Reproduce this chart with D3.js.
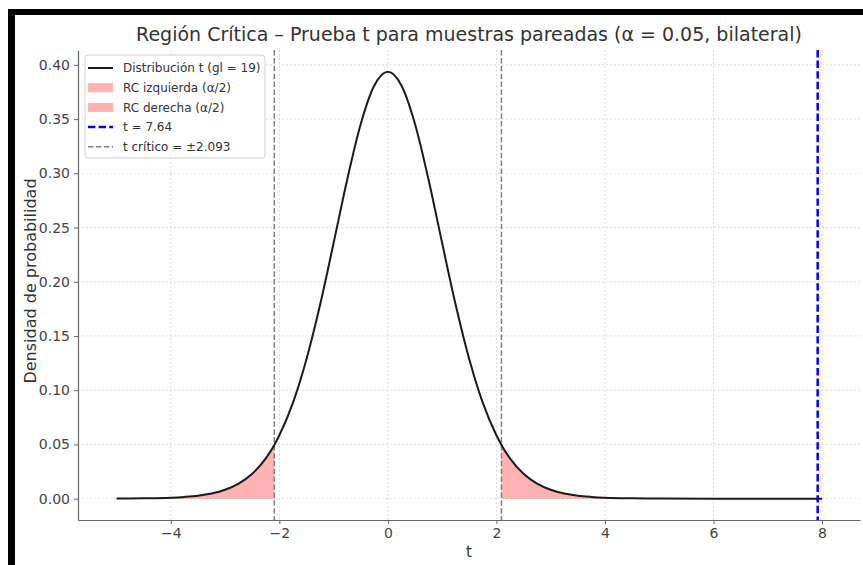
<!DOCTYPE html>
<html>
<head>
<meta charset="utf-8">
<script src="https://cdn.jsdelivr.net/npm/d3@7"></script>
<style>
  body { margin: 0; background: #fff; }
  svg { display: block; font-family: "DejaVu Sans", sans-serif; }
</style>
</head>
<body>
<div id="app"></div>
<script>
// t values and density (gl = 19)
const tPoints = [-5, -4.5, -4, -3.75, -3.5, -3.25, -3, -2.75, -2.5, -2.25, -2.093, -2, -1.75, -1.5, -1.25, -1, -0.75, -0.5, -0.25,
  0, 0.25, 0.5, 0.75, 1, 1.25, 1.5, 1.75, 2, 2.093, 2.25, 2.5, 2.75, 3, 3.25, 3.5, 3.75, 4, 4.5, 5, 6, 7, 8];
const density = [0.0001, 0.0003, 0.0009, 0.0016, 0.0027, 0.0047, 0.0082, 0.0138, 0.0229, 0.0371, 0.0495, 0.0584, 0.0883, 0.1286, 0.1786, 0.2357, 0.2941, 0.3455, 0.3810,
  0.3937, 0.3810, 0.3455, 0.2941, 0.2357, 0.1786, 0.1286, 0.0883, 0.0584, 0.0495, 0.0371, 0.0229, 0.0138, 0.0082, 0.0047, 0.0027, 0.0016, 0.0009, 0.0003, 0.0001, 0, 0, 0];

const tCritical = [-2.093, 2.093];
const tObserved = [7.92];
const legendLabels = ['Distribución t (gl = 19)', 'RC izquierda (α/2)', 'RC derecha (α/2)', 't = 7.64', 't crítico = ±2.093'];
const xTicks = [-4, -2, 0, 2, 4, 6, 8];
const yTicks = [0, 0.05, 0.10, 0.15, 0.20, 0.25, 0.30, 0.35, 0.40];

const W = 863, H = 565;
const mLeft = 78, mRight = 860, mTop = 50, mBottom = 520;

const svg = d3.select('#app').append('svg')
  .attr('width', W).attr('height', H);

// black frame on top and left of the screenshot
svg.append('rect').attr('x', 8).attr('y', 9).attr('width', W - 8).attr('height', 6).attr('fill', '#000');
svg.append('rect').attr('x', 8).attr('y', 9).attr('width', 7).attr('height', H - 9).attr('fill', '#000');

const data = tPoints.map((t, i) => ({ t: t, y: density[i] }));

const x = d3.scaleLinear().domain([-5.71, 8.7]).range([mLeft, mRight]);
const y = d3.scaleLinear().domain([-0.0197, 0.4137]).range([mBottom, mTop]);

// grid
const grid = svg.append('g').attr('stroke', '#d4d4d4').attr('stroke-width', 1).attr('stroke-dasharray', '1.5,2.5');
grid.selectAll('.gx').data(xTicks).enter().append('line')
  .attr('x1', d => x(d)).attr('x2', d => x(d)).attr('y1', mTop).attr('y2', mBottom);
grid.selectAll('.gy').data(yTicks).enter().append('line')
  .attr('y1', d => y(d)).attr('y2', d => y(d)).attr('x1', mLeft).attr('x2', mRight);

// rejection regions
const area = d3.area().x(d => x(d.t)).y0(y(0)).y1(d => y(d.y)).curve(d3.curveMonotoneX);
svg.append('path').datum(data.filter(d => d.t <= tCritical[0]))
  .attr('d', area).attr('fill', '#ff0000').attr('fill-opacity', 0.3);
svg.append('path').datum(data.filter(d => d.t >= tCritical[1]))
  .attr('d', area).attr('fill', '#ff0000').attr('fill-opacity', 0.3);

// critical lines
svg.selectAll('.crit').data(tCritical).enter().append('line')
  .attr('x1', d => x(d)).attr('x2', d => x(d)).attr('y1', mTop).attr('y2', mBottom)
  .attr('stroke', '#808080').attr('stroke-width', 1.5).attr('stroke-dasharray', '5.5,2.4');

// density curve
const line = d3.line().x(d => x(d.t)).y(d => y(d.y)).curve(d3.curveMonotoneX);
svg.append('path').datum(data)
  .attr('d', line).attr('fill', 'none').attr('stroke', '#1a1a1a').attr('stroke-width', 2);

// observed t
svg.selectAll('.obs').data(tObserved).enter().append('line')
  .attr('x1', d => x(d)).attr('x2', d => x(d)).attr('y1', mTop).attr('y2', mBottom)
  .attr('stroke', '#0000ff').attr('stroke-width', 2.5).attr('stroke-dasharray', '7.4,3.2');

// axes
const xAxis = svg.append('g').attr('transform', `translate(0,${mBottom})`)
  .call(d3.axisBottom(x).tickValues(xTicks).tickSize(4).tickSizeOuter(0).tickPadding(4).tickFormat(d3.format('d')));
const yAxis = svg.append('g').attr('transform', `translate(${mLeft},0)`)
  .call(d3.axisLeft(y).tickValues(yTicks).tickSize(4).tickSizeOuter(0).tickPadding(4).tickFormat(d3.format('.2f')));
[xAxis, yAxis].forEach(a => {
  a.select('.domain').attr('stroke', '#666').attr('stroke-width', 1.2);
  a.selectAll('.tick line').attr('stroke', '#666');
  a.selectAll('.tick text').attr('fill', '#444').style('font-size', '14px').style('font-family', 'DejaVu Sans');
});

// labels
svg.append('text').attr('x', 469).attr('y', 41).attr('text-anchor', 'middle')
  .attr('fill', '#333').style('font-size', '19px')
  .text('Región Crítica – Prueba t para muestras pareadas (α = 0.05, bilateral)');
svg.append('text').attr('x', (mLeft + mRight) / 2).attr('y', 557).attr('text-anchor', 'middle')
  .attr('fill', '#333').style('font-size', '15px').text('t');
svg.append('text').attr('transform', `translate(36,${(mTop + mBottom) / 2 - 4}) rotate(-90)`)
  .attr('text-anchor', 'middle').attr('fill', '#333').style('font-size', '16px')
  .text('Densidad de probabilidad');

// legend
const lg = svg.append('g').attr('transform', 'translate(85,55)');
lg.append('rect').attr('width', 180).attr('height', 103).attr('rx', 3)
  .attr('fill', '#fff').attr('fill-opacity', 0.85).attr('stroke', '#d0d0d0');
const rowY = i => 13 + i * 19.7;
const rows = lg.selectAll('.row').data(legendLabels).enter().append('g')
  .attr('transform', (d, i) => `translate(0,${rowY(i)})`);
rows.append('text').attr('x', 38).attr('dy', '0.35em').attr('fill', '#333')
  .style('font-size', '12px').text(d => d);
rows.each(function (d, i) {
  const g = d3.select(this);
  if (i === 0) {
    g.append('line').attr('x1', 3).attr('x2', 28).attr('stroke', '#1a1a1a').attr('stroke-width', 2);
  } else if (i === 1 || i === 2) {
    g.append('rect').attr('x', 3).attr('y', -4.5).attr('width', 25).attr('height', 9)
      .attr('fill', '#ff0000').attr('fill-opacity', 0.3);
  } else if (i === 3) {
    g.append('line').attr('x1', 3).attr('x2', 28).attr('stroke', '#0000ff').attr('stroke-width', 2.5).attr('stroke-dasharray', '7.4,3.2');
  } else {
    g.append('line').attr('x1', 3).attr('x2', 28).attr('stroke', '#808080').attr('stroke-width', 1.5).attr('stroke-dasharray', '5.5,2.4');
  }
});
</script>
</body>
</html>
